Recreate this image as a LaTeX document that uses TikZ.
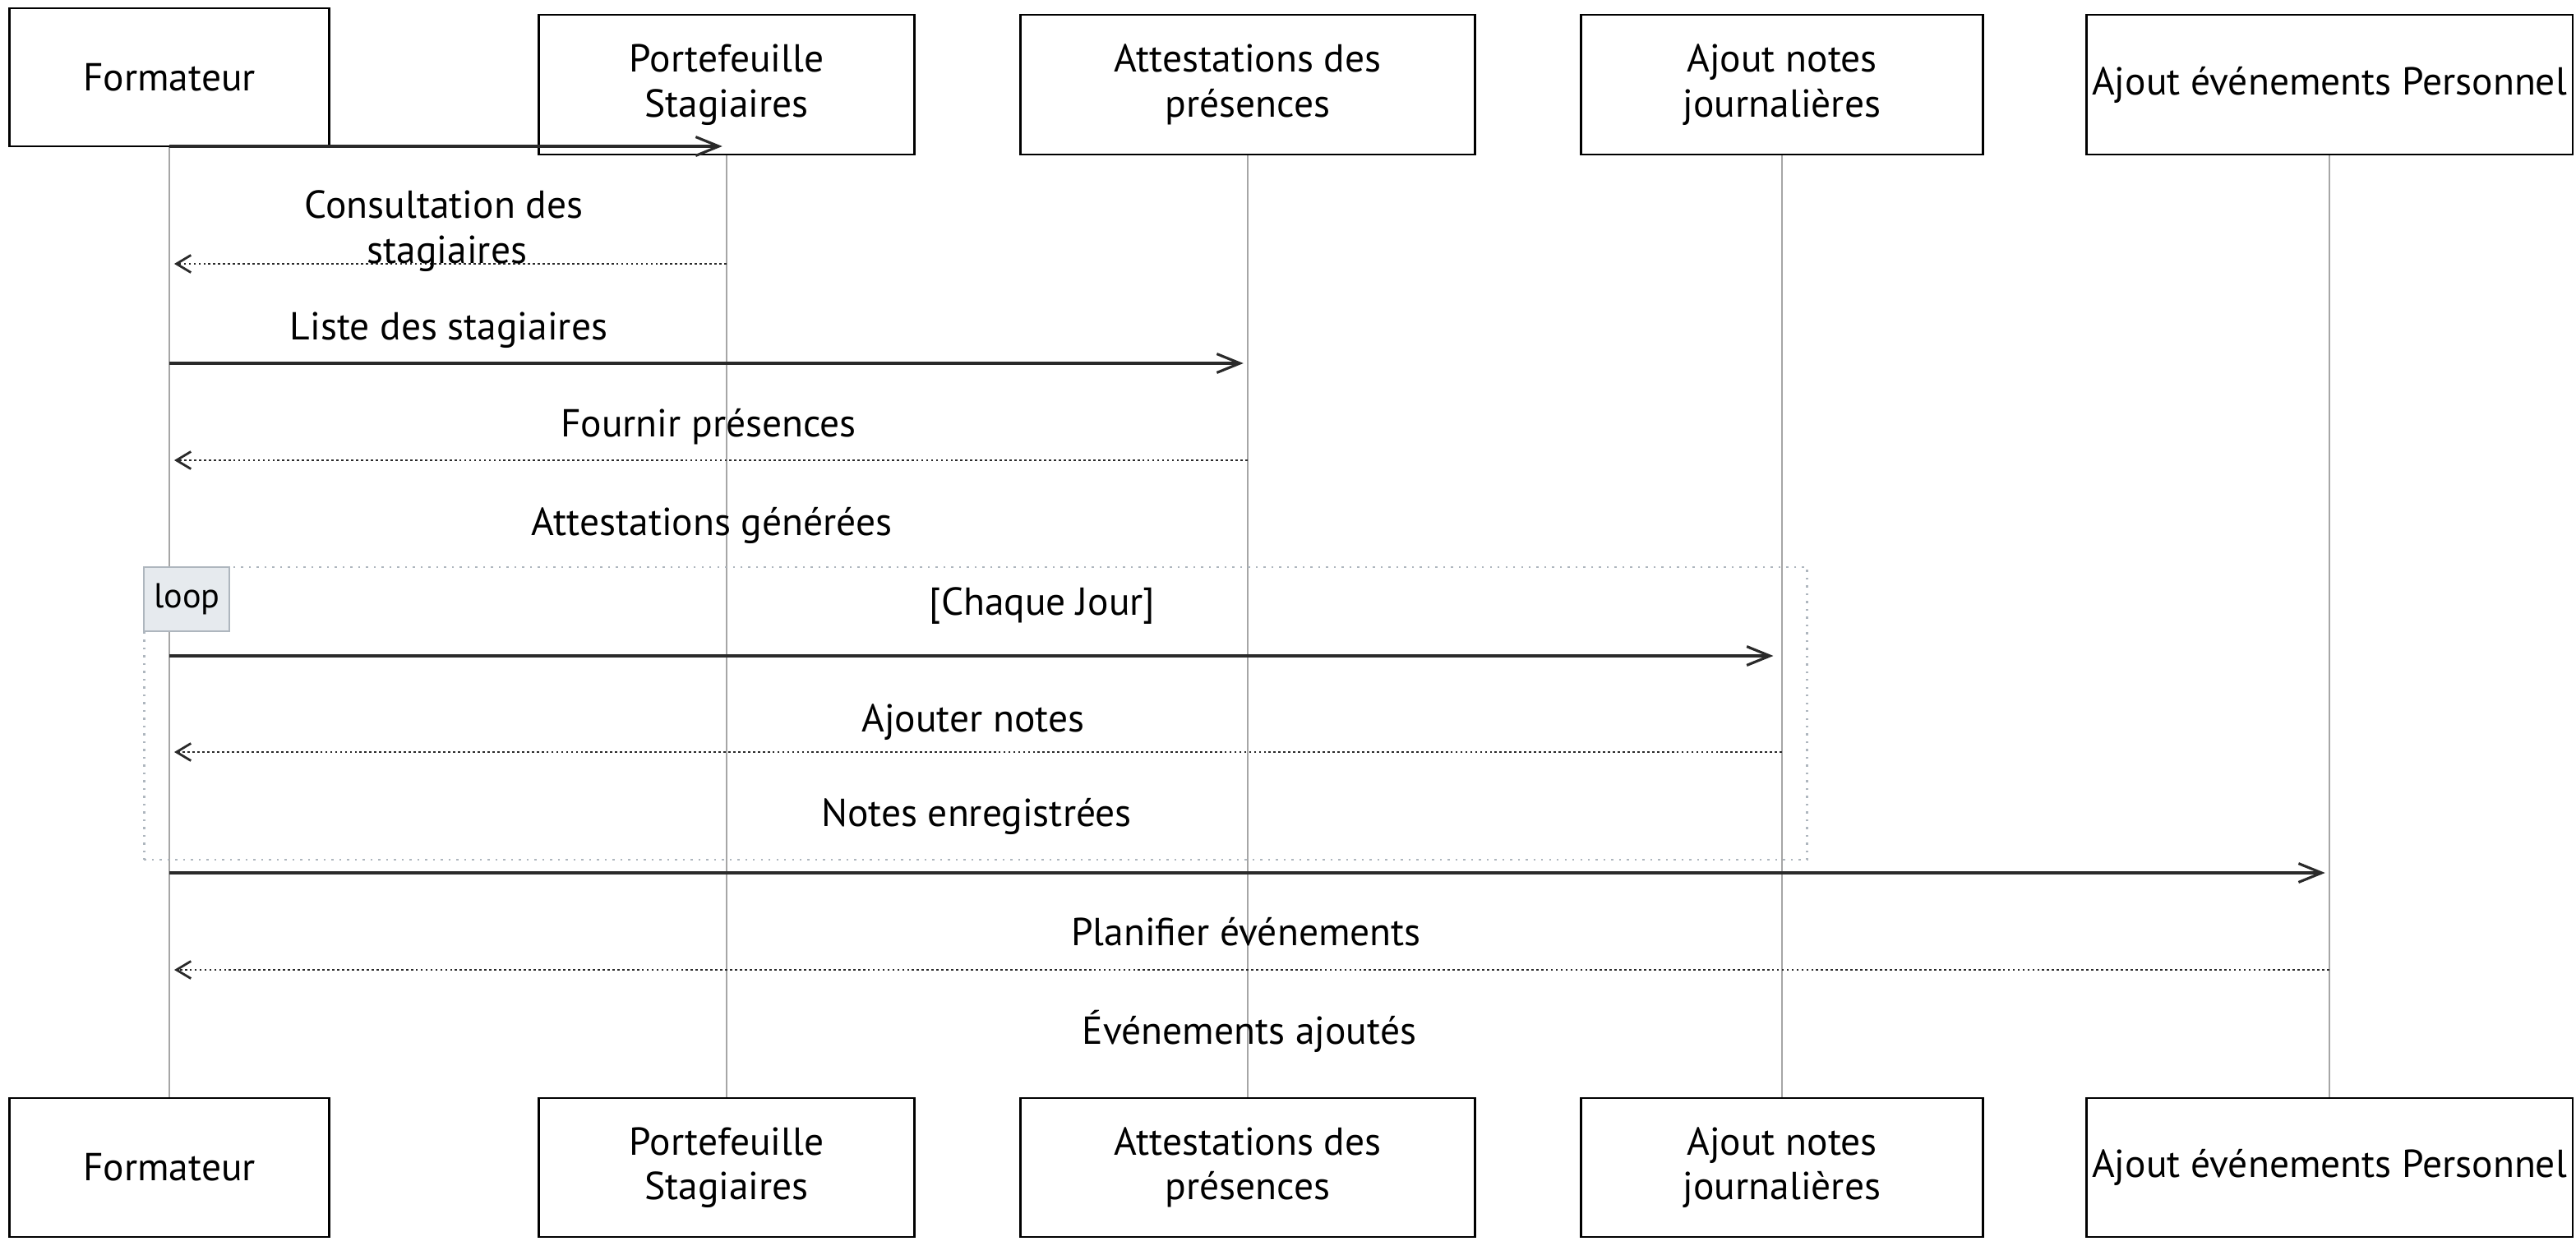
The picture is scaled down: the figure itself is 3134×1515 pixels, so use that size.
\documentclass[tikz,border=0pt]{standalone}
\usepackage{fontspec}
\setmainfont{PT Sans}
\usetikzlibrary{arrows.meta,calc}
\definecolor{sqdark}{HTML}{2A2A2A}
\definecolor{sqline}{HTML}{A6A6A6}
\definecolor{sqloop}{HTML}{AEB6BE}
\definecolor{sqtag}{HTML}{E6EAEE}
\tikzset{
  actor/.style={draw=black,line width=0.8pt,fill=white,align=center,inner sep=2pt,
                font=\fontsize{13.5}{15.5}\selectfont},
  life/.style={draw=sqline,line width=0.35pt},
  call/.style={-{Straight Barb[length=8pt,width=6.5pt]},line width=0.9pt,sqdark,shorten >=1.5pt},
  back/.style={-{Straight Barb[length=5pt,width=6pt]},line width=0.8pt,sqdark,
               dash pattern=on 0.8pt off 0.9pt,shorten >=1.7pt},
  msg/.style={font=\fontsize{13.5}{15.5}\selectfont,align=center,inner sep=0pt,anchor=base},
  loopframe/.style={draw=sqloop,line width=0.7pt,dash pattern=on 0.7pt off 2pt},
  looptag/.style={draw=sqloop,fill=sqtag,line width=0.6pt,inner sep=0pt,
                  font=\fontsize{12}{13}\selectfont},
}
\begin{document}
\begin{tikzpicture}[x=0.01cm,y=-0.01cm]
  \useasboundingbox (0,0) rectangle (3134,1515);
  % participants, top and bottom
  \foreach \n/\x/\y/\h/\w/\t in {fmt/206/94/1.68/3.88/Formateur,
      pf/884/103/1.70/4.56/{Portefeuille\\Stagiaires},
      att/1518/103/1.70/5.52/{Attestations des\\présences},
      notes/2168/103/1.70/4.88/{Ajout notes\\journalières},
      evt/2834/103/1.70/5.84/{Ajout événements Personnel}}
  {
    \node[actor,minimum width=\w cm,minimum height=\h cm] (\n-top) at (\x,\y) {\t};
    \node[actor,minimum width=\w cm,minimum height=1.69cm] (\n-bot) at (\x,1420.5) {\t};
    \draw[life] (\n-top.south) -- (\n-bot.north);
  }
  % loop frame
  \node[loopframe,minimum width=20.22cm,minimum height=3.56cm] (loop) at (1187,868) {};
  \node[looptag,anchor=north west,minimum width=1.04cm,minimum height=0.78cm] (tag) at (loop.north west) {loop};
  % message levels
  \foreach \m/\y in {m1/178,m2/321,m3/442,m4/560,m5/798,m6/915,m7/1062,m8/1180}
    \coordinate (\m) at (0,\y);
  \draw[call] (fmt-top.south |- m1) -- (pf-top.south |- m1);
  \draw[back] (pf-top.south |- m2) -- (fmt-top.south |- m2);
  \draw[call] (fmt-top.south |- m3) -- (att-top.south |- m3);
  \draw[back] (att-top.south |- m4) -- (fmt-top.south |- m4);
  \draw[call] (fmt-top.south |- m5) -- ([xshift=-1.5pt]notes-top.south |- m5);
  \draw[back] (notes-top.south |- m6) -- (fmt-top.south |- m6);
  \draw[call] (fmt-top.south |- m7) -- (evt-top.south |- m7);
  \draw[back] (evt-top.south |- m8) -- (fmt-top.south |- m8);
  % labels
  \node[msg] (l1) at (540,265) {Consultation des};
  \node[msg] (l1b) at (544,320) {stagiaires};
  \node[msg] (l2) at (546,413) {Liste des stagiaires};
  \node[msg] (l3) at (862,531) {Fournir présences};
  \node[msg] (l4) at (866,651) {Attestations générées};
  \node[msg] (l5) at (1268,748) {[Chaque Jour]};
  \node[msg] (l6) at (1184,890) {Ajouter notes};
  \node[msg] (l7) at (1188,1005) {Notes enregistrées};
  \node[msg] (l8) at (1516,1150) {Planifier événements};
  \node[msg] (l9) at (1520,1270) {Événements ajoutés};
\end{tikzpicture}
\end{document}
